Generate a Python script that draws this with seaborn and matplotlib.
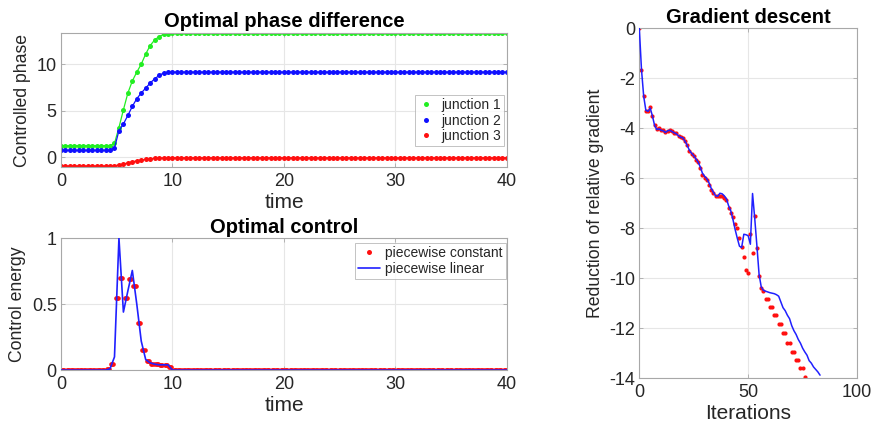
import numpy as np
import matplotlib
matplotlib.use("Agg")
import matplotlib.pyplot as plt
from matplotlib.lines import Line2D
import seaborn as sns

# DATA ---------------------------------------------------------------------------------------------

# time grid of the control problem (dt = 0.4)
time = np.linspace(0, 40, 101)

# controlled phase of the three junctions: flat, a rise between t=4.8 and t=9.6, flat again
phase_j1 = [1.25] * 12 + [1.5, 3.2, 5.1, 6.9, 8.2, 9.15, 10.0, 11.1, 12.0, 12.6, 12.97, 13.2, 13.27] + [13.3] * 76
phase_j2 = [0.75] * 12 + [1.0, 2.86, 3.58, 4.5, 5.47, 6.3, 6.9, 7.44, 7.97, 8.43, 8.79, 9.05, 9.12] + [9.15] * 76
phase_j3 = [-0.93] * 12 + [-0.9, -0.82, -0.72, -0.6, -0.48, -0.38, -0.3, -0.22, -0.16, -0.11, -0.08, -0.06, -0.05] + [-0.05] * 76

# control energy, piecewise linear (values at the nodes)
ctrl_linear = [0.0] * 10 + [0.0, 0.01, 0.1, 1.0, 0.44, 0.6, 0.755, 0.5, 0.22, 0.08,
                            0.055, 0.045, 0.04, 0.04, 0.04, 0.0] + [0.0] * 75
# control energy, piecewise constant (one value per interval)
ctrl_const = [0.0] * 10 + [0.005, 0.05, 0.55, 0.70, 0.545, 0.69, 0.64, 0.355, 0.15, 0.07,
                           0.05, 0.045, 0.04, 0.04, 0.02] + [0.0] * 75

# gradient descent: log reduction of relative gradient per iteration
grad_linear = [0, -1.65, -2.71, -3.28, -3.32, -3.19, -3.5, -3.88, -4.05, -4.02,
               -4.08, -4.1, -4.17, -4.1, -4.08, -4.13, -4.18, -4.22, -4.3, -4.36,
               -4.38, -4.52, -4.68, -4.88, -5.0, -5.1, -5.22, -5.35, -5.55, -5.8,
               -5.92, -6.02, -6.18, -6.4, -6.55, -6.7, -6.72, -6.6, -6.62, -6.7,
               -6.82, -7.1, -7.3, -7.65, -8.05, -8.4, -8.72, -8.77, -8.24, -8.26,
               -8.3, -8.64, -6.61, -7.6, -8.7, -9.85, -10.35, -10.48, -10.52, -10.55,
               -10.58, -10.6, -10.62, -10.66, -10.72, -10.95, -11.18, -11.3, -11.48, -11.62,
               -11.9, -12.1, -12.25, -12.45, -12.6, -12.8, -12.95, -13.08, -13.3, -13.4,
               -13.55, -13.65, -13.75, -13.88]
grad_const = [0, -1.65, -2.71, -3.3, -3.3, -3.15, -3.52, -3.85, -4.02, -4.0,
              -4.06, -4.05, -4.15, -4.1, -4.08, -4.12, -4.18, -4.2, -4.3, -4.35,
              -4.37, -4.5, -4.65, -4.9, -5.02, -5.1, -5.25, -5.35, -5.6, -5.85,
              -6.0, -6.08, -6.25, -6.45, -6.58, -6.72, -6.7, -6.72, -6.72, -6.8,
              -6.85, -7.2, -7.4, -7.57, -7.84, -8.01, -8.41, -8.75, -9.15, -9.68,
              -9.79, -8.25, -8.99, -7.52, -8.79, -9.9, -10.4, -10.5, -10.84, -10.84,
              -11.15, -11.15, -11.48, -11.48, -11.84, -11.84, -12.2, -12.2, -12.59, -12.59,
              -12.95, -12.95, -13.28, -13.28, -13.61, -13.61, -13.95]

# STYLE --------------------------------------------------------------------------------------------

sns.set_theme(style="whitegrid")
plt.rcParams.update({
    "font.family": ["Liberation Sans", "DejaVu Sans"],
    "axes.unicode_minus": False,
    "axes.edgecolor": "#a8a8a8",
    "axes.linewidth": 0.8,
    "grid.color": "#e6e6e6",
    "grid.linewidth": 0.8,
    "xtick.labelsize": 13,
    "ytick.labelsize": 13,
})

GREEN, BLUE, RED = "#22ee22", "#1010ff", "#ff1010"
LINE_BLUE = "#2020ff"
TITLE_KW = dict(fontsize=14.5, fontweight="bold", pad=4, color="black")
XLAB_KW = dict(fontsize=15, labelpad=2, color="#262626")
YLAB_KW = dict(fontsize=12.7, labelpad=4, color="#262626")


def matlab_axes(ax):
    for s in ax.spines.values():
        s.set_visible(True)
        s.set_color("#a8a8a8")
    ax.tick_params(direction="in", length=3, width=0.6, pad=3, color="#a8a8a8",
                   labelcolor="#262626", top=True, right=True, bottom=True, left=True)
    ax.tick_params(axis="x", pad=4.5)


def boxed_legend(ax, handles, labels, anchor, **kw):
    leg = ax.legend(handles, labels, loc="upper right", bbox_to_anchor=anchor, fontsize=10,
                    frameon=True, fancybox=False, borderpad=0.25, labelspacing=0.1,
                    borderaxespad=0, **kw)
    leg.get_frame().set_edgecolor("#a8a8a8")
    leg.get_frame().set_linewidth(0.6)
    return leg


fig = plt.figure(figsize=(8.71, 4.23), dpi=100)
ax1 = fig.add_axes([0.070, 0.605, 0.512, 0.317])
ax2 = fig.add_axes([0.070, 0.125, 0.512, 0.312])
ax3 = fig.add_axes([0.734, 0.106, 0.250, 0.827])

# OPTIMAL PHASE DIFFERENCE --------------------------------------------------------------------------

for vals, col in [(phase_j1, GREEN), (phase_j2, BLUE), (phase_j3, RED)]:
    sns.lineplot(x=time, y=vals, ax=ax1, color=col, linewidth=0.9, marker="o",
                 markersize=3.6, markeredgewidth=0)
ax1.set_xlim(0, 40)
ax1.set_ylim(-1.05, 13.35)
ax1.set_xticks([0, 10, 20, 30, 40])
ax1.set_yticks([0, 5, 10])
ax1.set_title("Optimal phase difference", **TITLE_KW)
ax1.set_xlabel("time", **XLAB_KW)
ax1.set_ylabel("Controlled phase", **YLAB_KW)
handles = [Line2D([], [], ls="", marker="o", ms=3.6, mew=0, color=c) for c in (GREEN, BLUE, RED)]
boxed_legend(ax1, handles, ["junction 1", "junction 2", "junction 3"], (0.994, 0.54),
             handlelength=1.0, handletextpad=0.6)
matlab_axes(ax1)

# OPTIMAL CONTROL -----------------------------------------------------------------------------------

# piecewise constant value drawn as a few dots inside each interval
t_const = (time[:-1, None] + np.array([0.1, 0.2, 0.3])[None, :]).ravel()
v_const = np.repeat(ctrl_const, 3)
sns.scatterplot(x=t_const, y=v_const, ax=ax2, color=RED, s=11, linewidth=0, zorder=2)
sns.lineplot(x=time, y=ctrl_linear, ax=ax2, color=LINE_BLUE, linewidth=1.2, zorder=3)
ax2.set_xlim(0, 40)
ax2.set_ylim(0, 1)
ax2.set_xticks([0, 10, 20, 30, 40])
ax2.set_yticks([0, 0.5, 1])
ax2.set_yticklabels(["0", "0.5", "1"])
ax2.set_title("Optimal control", **TITLE_KW)
ax2.set_xlabel("time", **XLAB_KW)
ax2.set_ylabel("Control energy", **YLAB_KW)
handles = [Line2D([], [], ls="", marker="o", ms=3.6, mew=0, color=RED),
           Line2D([], [], color=LINE_BLUE, lw=1.2)]
boxed_legend(ax2, handles, ["piecewise constant", "piecewise linear"], (0.997, 0.965),
             handlelength=1.6, handletextpad=0.3)
matlab_axes(ax2)

# GRADIENT DESCENT ----------------------------------------------------------------------------------

sns.scatterplot(x=np.arange(len(grad_const)), y=grad_const, ax=ax3, color=RED, s=9,
                linewidth=0, zorder=2)
sns.lineplot(x=np.arange(len(grad_linear)), y=grad_linear, ax=ax3, color=LINE_BLUE,
             linewidth=1.1, zorder=3)
ax3.set_xlim(0, 100)
ax3.set_ylim(-14, 0)
ax3.set_xticks([0, 50, 100])
ax3.set_yticks(np.arange(-14, 1, 2))
ax3.set_title("Gradient descent", **TITLE_KW)
ax3.set_xlabel("Iterations", **XLAB_KW)
ax3.set_ylabel("Reduction of relative gradient", **YLAB_KW)
matlab_axes(ax3)

fig.savefig("out.png", dpi=100)
